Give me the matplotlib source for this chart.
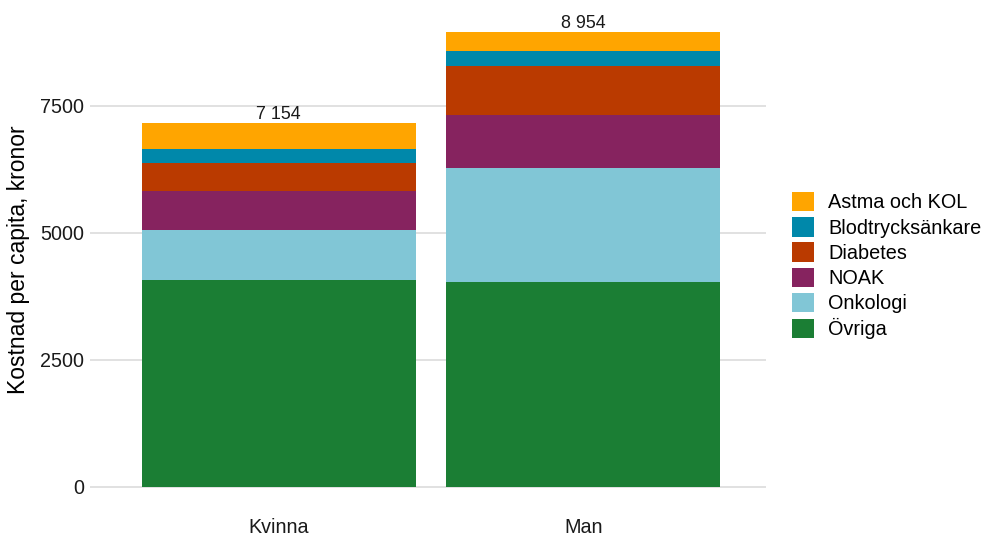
import matplotlib
matplotlib.use('Agg')
import matplotlib.pyplot as plt
from matplotlib.patches import Patch
import numpy as np

plt.rcParams['font.family'] = ['Liberation Sans', 'DejaVu Sans']

# Kostnad per capita (kronor) per kön och läkemedelsgrupp
groups = ['Kvinna', 'Man']
categories = ['Övriga', 'Onkologi', 'NOAK', 'Diabetes', 'Blodtrycksänkare', 'Astma och KOL']
ovriga = [4070, 4035]
onkologi = [990, 2233]
noak = [760, 1049]
diabetes = [557, 970]
blodtryck = [276, 290]
astma = [501, 377]
totals = [7154, 8954]
total_labels = ['7 154', '8 954']

colors = ['#1B7E34', '#81C6D6', '#86235F', '#BA3A00', '#0088AA', '#FFA500']
yticks = [0, 2500, 5000, 7500]

series = [ovriga, onkologi, noak, diabetes, blodtryck, astma]

fig = plt.figure(figsize=(9.84, 5.37), dpi=100)
ax = fig.add_axes([0.0912, 0.0514, 0.6873, 0.9316])

x = np.arange(len(groups))
bottom = np.zeros(len(groups))
handles = []
for vals, col, name in zip(series, colors, categories):
    ax.bar(x, vals, width=0.9, bottom=bottom, color=col, linewidth=0, zorder=2)
    bottom += np.array(vals)
    handles.append(Patch(facecolor=col, edgecolor='none', label=name))

# summa ovanför varje stapel
for xi, tot, lab in zip(x, totals, total_labels):
    ax.annotate(lab, xy=(xi, tot), xytext=(0, 0), textcoords='offset points',
                ha='center', va='bottom', fontsize=12.9, color='#1a1a1a')

ax.set_xlim(-0.62, 1.6)
ax.set_ylim(-447, 9402)
ax.set_xticks(x)
ax.set_xticklabels(groups)
ax.set_yticks(yticks)
ax.set_yticklabels([str(t) for t in yticks])
ax.tick_params(axis='both', length=0, labelsize=14.2, colors='#1a1a1a')
ax.tick_params(axis='x', pad=6.5)
ax.tick_params(axis='y', pad=4)
ax.grid(axis='y', color='#dedede', linewidth=1.3, zorder=0)
ax.grid(axis='x', visible=False)
for sp in ax.spines.values():
    sp.set_visible(False)
ax.set_ylabel('Kostnad per capita, kronor', fontsize=16.5, color='black', labelpad=7)

leg = fig.legend(handles=handles[::-1], loc='center left',
                 bbox_to_anchor=(0.8046, 0.5056), frameon=False, fontsize=14.3,
                 handlelength=1.14, handleheight=1.14, labelspacing=0.24,
                 handletextpad=0.7, borderaxespad=0, borderpad=0)

fig.savefig('out.png', dpi=100)
